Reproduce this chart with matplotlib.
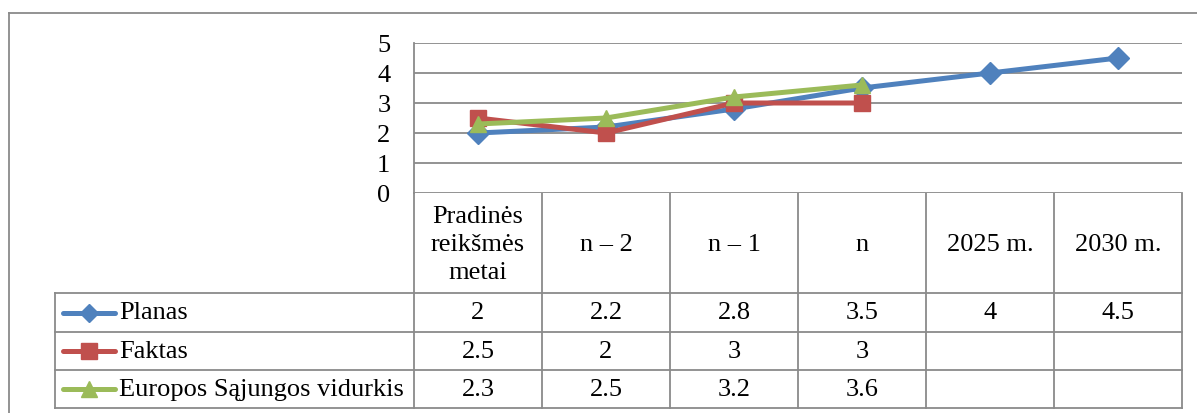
import numpy as np
import matplotlib.pyplot as plt

# Data
categories = ['Pradinės\nreikšmės\nmetai', 'n – 2', 'n – 1', 'n', '2025 m.', '2030 m.']
series_names = ['Planas', 'Faktas', 'Europos Sąjungos vidurkis']
planas = [2, 2.2, 2.8, 3.5, 4, 4.5]
faktas = [2.5, 2, 3, 3, None, None]
es_vidurkis = [2.3, 2.5, 3.2, 3.6, None, None]
series = [planas, faktas, es_vidurkis]

colors = ['#4F81BD', '#C0504D', '#9BBB59']
markers = ['D', 's', '^']
msizes = [11, 12, 12]
key_ms = [9, 12, 12]
grid_c = '#8a8a8a'
fs = 19

plt.rcParams['font.family'] = ['Liberation Serif', 'DejaVu Serif']

W, H = 1197, 414
fig = plt.figure(figsize=(W / 100, H / 100), dpi=100)

# pixel layout
x0, x1 = 414, 1182
y_top, y_zero = 44, 194
rows = [294, 333, 371, 409]
leg_left = 55
ncat = len(categories)
colw = (x1 - x0) / ncat

ax = fig.add_axes([x0 / W, 1 - y_zero / H, (x1 - x0) / W, (y_zero - y_top) / H])
x = np.arange(ncat)
for vals, c, m, ms in zip(series, colors, markers, msizes):
    y = np.array([np.nan if v is None else v for v in vals], dtype=float)
    ax.plot(x, y, color=c, lw=3.6, marker=m, ms=ms, mec=c, mfc=c, zorder=3,
            solid_capstyle='round')
ax.set_xlim(-0.5, ncat - 0.5)
ax.set_ylim(0, 5)
ax.set_yticks(range(6))
ax.set_yticklabels([str(i) for i in range(6)], fontsize=fs)
ax.tick_params(axis='y', length=0, pad=17)
ax.set_xticks([])
for s in ['top', 'right', 'bottom']:
    ax.spines[s].set_visible(False)
ax.spines['left'].set_color(grid_c)
ax.spines['left'].set_linewidth(1.3)
for yv in range(0, 6):
    ax.axhline(yv, color=grid_c, lw=1.3, zorder=1)

# overlay for frame and data table
t = fig.add_axes([0, 0, 1, 1], zorder=-1)
t.set_xlim(0, W)
t.set_ylim(H, 0)
t.axis('off')
t.patch.set_alpha(0)
lc = dict(color=grid_c, lw=1.3)

# outer frame
t.plot([9, 9], [14, H], **lc)
t.plot([9, W], [14, 14], **lc)

# table grid
for r in rows:
    t.plot([leg_left, x1], [r, r], **lc)
t.plot([leg_left, leg_left], [rows[0], rows[-1]], **lc)
for i in range(ncat + 1):
    xv = x0 + i * colw
    t.plot([xv, xv], [y_zero, rows[-1]], **lc)

# header labels
for i, cat in enumerate(categories):
    t.text(x0 + (i + 0.5) * colw, (y_zero + rows[0]) / 2 + 1, cat, ha='center',
           va='center', fontsize=fs, linespacing=1.35)

# legend keys and values
for k, (name, vals) in enumerate(zip(series_names, series)):
    yc = (rows[k] + rows[k + 1]) / 2
    t.plot([63, 115], [yc, yc], color=colors[k], lw=3.6, solid_capstyle='round')
    t.plot([89], [yc], marker=markers[k], ms=key_ms[k], color=colors[k])
    t.text(119, yc, name, ha='left', va='center', fontsize=fs)
    for i, v in enumerate(vals):
        if v is not None:
            t.text(x0 + (i + 0.5) * colw, yc, f'{v:g}', ha='center',
                   va='center', fontsize=fs)

fig.savefig('out.png', dpi=100)
